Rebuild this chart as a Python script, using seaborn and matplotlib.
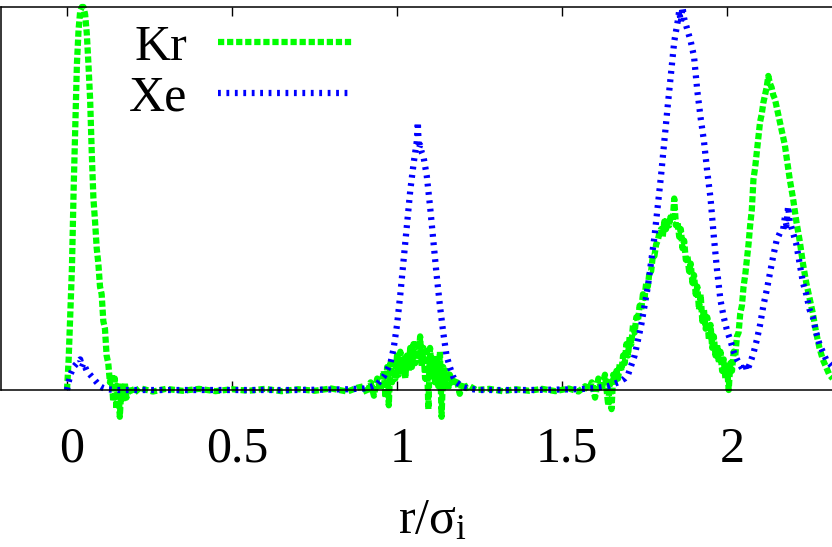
import matplotlib
matplotlib.use("Agg")
import numpy as np
import pandas as pd
import matplotlib.pyplot as plt
import matplotlib.transforms as mtransforms
import seaborn as sns

# Kr profile (r/sigma_i , g)
kr_r = [0.000, 0.005, 0.010, 0.015, 0.020, 0.025, 0.030, 0.035, 0.040, 0.045,
        0.050, 0.055, 0.060, 0.065, 0.070, 0.075, 0.080, 0.085, 0.090, 0.095,
        0.100, 0.105, 0.110, 0.115, 0.120, 0.125, 0.130, 0.135, 0.140, 0.145,
        0.150, 0.155, 0.160, 0.165, 0.170, 0.175, 0.180, 0.190, 0.200, 0.220,
        0.26, 0.30, 0.35, 0.40, 0.45, 0.50, 0.55, 0.60, 0.65, 0.70,
        0.75, 0.80, 0.85, 0.88, 0.90, 0.91, 0.92, 0.93, 0.94, 0.95,
        0.96, 0.965, 0.97, 0.975, 0.98, 0.985, 0.99, 0.995, 1.00, 1.005,
        1.01, 1.015, 1.02, 1.025, 1.03, 1.035, 1.04, 1.045, 1.05, 1.055,
        1.06, 1.065, 1.07, 1.075, 1.08, 1.085, 1.09, 1.095, 1.10, 1.105,
        1.11, 1.115, 1.12, 1.125, 1.13, 1.135, 1.14, 1.145, 1.15, 1.155,
        1.16, 1.17, 1.18, 1.19, 1.20, 1.21, 1.22, 1.24, 1.28, 1.32,
        1.36, 1.40, 1.44, 1.48, 1.52, 1.55, 1.57, 1.58, 1.59, 1.60,
        1.61, 1.62, 1.63, 1.64, 1.645, 1.65, 1.655, 1.66, 1.665, 1.67,
        1.675, 1.68, 1.685, 1.69, 1.695, 1.70, 1.705, 1.71, 1.715, 1.72,
        1.725, 1.73, 1.735, 1.74, 1.745, 1.75, 1.755, 1.76, 1.765, 1.77,
        1.775, 1.78, 1.785, 1.79, 1.795, 1.80, 1.805, 1.81, 1.815, 1.82,
        1.825, 1.83, 1.835, 1.84, 1.845, 1.85, 1.855, 1.86, 1.865, 1.87,
        1.875, 1.88, 1.885, 1.89, 1.895, 1.90, 1.905, 1.91, 1.915, 1.92,
        1.925, 1.93, 1.935, 1.94, 1.945, 1.95, 1.955, 1.96, 1.965, 1.97,
        1.975, 1.98, 1.985, 1.99, 1.995, 2.00, 2.005, 2.01, 2.015, 2.02,
        2.025, 2.03, 2.035, 2.04, 2.045, 2.05, 2.055, 2.06, 2.065, 2.07,
        2.075, 2.08, 2.085, 2.09, 2.095, 2.10, 2.105, 2.11, 2.115, 2.12,
        2.125, 2.13, 2.135, 2.14, 2.145, 2.15, 2.155, 2.16, 2.165, 2.17,
        2.175, 2.18, 2.185, 2.19, 2.20, 2.21, 2.22, 2.23, 2.24, 2.25,
        2.26, 2.27, 2.28, 2.29, 2.30, 2.31, 2.32]
kr_g = [0.00, 0.08, 0.20, 0.32, 0.52, 0.69, 0.85, 0.94, 0.99, 1.00,
        1.00, 0.98, 0.93, 0.85, 0.76, 0.62, 0.50, 0.44, 0.37, 0.33,
        0.27, 0.25, 0.18, 0.16, 0.09, 0.07, 0.02, 0.04, -0.03, 0.03,
        -0.05, 0.02, -0.07, 0.01, -0.03, 0.02, -0.02, 0.01, -0.01, 0.005,
        -0.004, 0.003, -0.002, 0.003, -0.003, 0.002, -0.002, 0.003, -0.003, 0.002,
        -0.002, 0.004, -0.004, 0.006, 0.01, -0.01, 0.02, -0.015, 0.03, 0.00,
        0.05, -0.02, 0.06, -0.04, 0.07, 0.02, 0.08, 0.03, 0.09, 0.04,
        0.10, 0.05, 0.08, 0.03, 0.09, 0.05, 0.11, 0.06, 0.12, 0.07,
        0.13, 0.08, 0.14, 0.06, 0.11, 0.03, 0.10, -0.05, 0.11, 0.05,
        0.09, 0.02, 0.08, 0.01, 0.10, -0.07, 0.06, 0.02, 0.05, 0.00,
        0.04, 0.01, 0.03, -0.01, 0.02, 0.005, 0.01, 0.00, 0.003, -0.003,
        0.002, -0.002, 0.003, -0.003, 0.004, -0.004, 0.01, 0.00, 0.02, -0.02,
        0.03, 0.00, 0.04, -0.04, 0.03, -0.05, 0.04, 0.02, 0.05, 0.03,
        0.07, 0.05, 0.09, 0.07, 0.12, 0.09, 0.14, 0.12, 0.17, 0.15,
        0.19, 0.18, 0.22, 0.21, 0.25, 0.24, 0.28, 0.27, 0.31, 0.31,
        0.35, 0.35, 0.38, 0.39, 0.41, 0.42, 0.40, 0.44, 0.42, 0.45,
        0.43, 0.46, 0.44, 0.50, 0.43, 0.44, 0.40, 0.42, 0.37, 0.39,
        0.34, 0.35, 0.31, 0.33, 0.28, 0.30, 0.25, 0.27, 0.21, 0.25,
        0.18, 0.21, 0.16, 0.19, 0.13, 0.17, 0.11, 0.14, 0.09, 0.12,
        0.07, 0.10, 0.05, 0.08, 0.03, 0.06, 0.00, 0.07, 0.05, 0.10,
        0.09, 0.14, 0.15, 0.20, 0.22, 0.27, 0.30, 0.34, 0.38, 0.43,
        0.47, 0.55, 0.58, 0.62, 0.66, 0.70, 0.72, 0.75, 0.77, 0.79,
        0.82, 0.80, 0.79, 0.77, 0.76, 0.74, 0.72, 0.70, 0.68, 0.66,
        0.64, 0.61, 0.58, 0.55, 0.50, 0.44, 0.39, 0.33, 0.28, 0.24,
        0.20, 0.15, 0.11, 0.08, 0.06, 0.04, 0.03]

# Xe profile
xe_r = [0.000, 0.010, 0.020, 0.030, 0.040, 0.045, 0.050, 0.060, 0.070, 0.080,
        0.090, 0.100, 0.110, 0.120, 0.150, 0.30, 0.50, 0.70, 0.85, 0.90,
        0.92, 0.94, 0.96, 0.98, 0.99, 1.00, 1.01, 1.02, 1.03, 1.04,
        1.05, 1.055, 1.06, 1.063, 1.066, 1.07, 1.075, 1.08, 1.09, 1.10,
        1.11, 1.12, 1.13, 1.14, 1.15, 1.16, 1.17, 1.18, 1.20, 1.22,
        1.25, 1.40, 1.55, 1.60, 1.64, 1.67, 1.69, 1.70, 1.72, 1.74,
        1.76, 1.78, 1.80, 1.82, 1.84, 1.85, 1.855, 1.86, 1.865, 1.87,
        1.88, 1.89, 1.90, 1.91, 1.92, 1.93, 1.94, 1.95, 1.96, 1.97,
        1.98, 1.99, 2.00, 2.01, 2.02, 2.03, 2.04, 2.05, 2.055, 2.06,
        2.07, 2.08, 2.09, 2.10, 2.11, 2.12, 2.13, 2.14, 2.15, 2.16,
        2.17, 2.175, 2.18, 2.185, 2.19, 2.20, 2.21, 2.22, 2.23, 2.24,
        2.25, 2.26, 2.27, 2.28, 2.29, 2.30, 2.31, 2.32]
xe_g = [0.00, 0.04, 0.06, 0.07, 0.08, 0.06, 0.07, 0.05, 0.04, 0.03,
        0.02, 0.01, 0.005, 0.002, 0.0, 0.0, 0.0, 0.0, 0.002, 0.004,
        0.008, 0.015, 0.035, 0.07, 0.11, 0.17, 0.25, 0.34, 0.43, 0.52,
        0.59, 0.62, 0.65, 0.70, 0.63, 0.64, 0.62, 0.61, 0.56, 0.48,
        0.39, 0.30, 0.22, 0.15, 0.09, 0.06, 0.035, 0.02, 0.008, 0.003,
        0.0, 0.0, 0.002, 0.005, 0.01, 0.02, 0.03, 0.04, 0.09, 0.17,
        0.27, 0.40, 0.56, 0.74, 0.91, 0.96, 0.99, 0.96, 1.00, 0.97,
        0.94, 0.91, 0.87, 0.78, 0.71, 0.65, 0.57, 0.50, 0.40, 0.31,
        0.235, 0.19, 0.155, 0.13, 0.10, 0.08, 0.065, 0.05, 0.07, 0.05,
        0.07, 0.096, 0.13, 0.17, 0.22, 0.26, 0.305, 0.35, 0.39, 0.41,
        0.42, 0.45, 0.43, 0.48, 0.44, 0.41, 0.38, 0.33, 0.28, 0.25,
        0.21, 0.19, 0.15, 0.12, 0.10, 0.08, 0.07, 0.06]

xticks = [0, 0.5, 1, 1.5, 2]
xtick_labels = ["0", "0.5", "1", "1.5", "2"]

sns.set_theme(style="white")
plt.rcParams['font.family'] = ['Liberation Serif', 'DejaVu Serif']
plt.rcParams['mathtext.fontset'] = 'custom'
plt.rcParams['mathtext.rm'] = 'Liberation Serif'
plt.rcParams['mathtext.it'] = 'Liberation Serif'
plt.rcParams['text.color'] = 'black'
plt.rcParams['axes.labelcolor'] = 'black'

kr = pd.DataFrame({"r": kr_r, "g": kr_g})
xe = pd.DataFrame({"r": xe_r, "g": xe_g})

fig = plt.figure(figsize=(8.32, 5.47), dpi=100)
ax = fig.add_axes([0.0012, 0.287, 0.9988, 0.7002])

lw = 4.5
sns.lineplot(data=kr, x="r", y="g", ax=ax, color="#00ff00", lw=lw,
             linestyle=(0, (1.0, 0.45)), label="Kr", clip_on=False, sort=False)
sns.lineplot(data=xe, x="r", y="g", ax=ax, color="#0000ff", lw=lw,
             linestyle=(0, (0.45, 0.9)), label="Xe", clip_on=False, sort=False)

ax.set_xlim(-0.2, 2.318)
ax.set_ylim(0, 1)
ax.set_xticks(xticks)
ax.set_xticklabels(xtick_labels)
ax.set_yticks([])
ax.tick_params(axis="x", direction="in", length=6.5, width=1, top=True,
               bottom=True, pad=26, labelsize=36, colors="black")
for lbl in ax.get_xticklabels():
    lbl.set_transform(lbl.get_transform() +
                      mtransforms.ScaledTranslation(0.05, 0, fig.dpi_scale_trans))

for s in ["left", "bottom", "top"]:
    ax.spines[s].set_color("black")
    ax.spines[s].set_linewidth(1.1)
ax.spines["right"].set_visible(False)

ax.set_xlabel(r"r/$\mathregular{σ_i}$", fontsize=36)
ax.xaxis.label.set_va("baseline")
ax.xaxis.set_label_coords(0.519, -0.373)
ax.set_ylabel("")

leg = ax.legend(loc="upper right", bbox_to_anchor=(0.4224, 0.955),
                frameon=False, fontsize=36, markerfirst=False,
                handlelength=2.68, handletextpad=0.62, borderpad=0,
                borderaxespad=0, labelspacing=0.08)

fig.savefig("out.png", dpi=100)
